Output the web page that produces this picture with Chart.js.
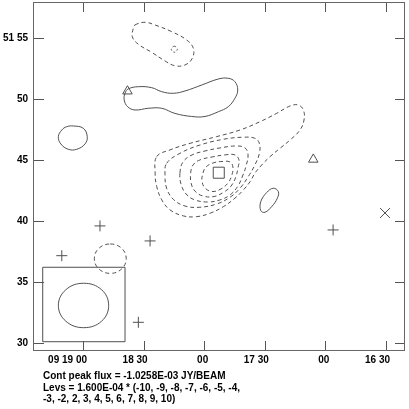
<!DOCTYPE html>
<html>
<head>
<meta charset="utf-8">
<script src="https://cdn.jsdelivr.net/npm/chart.js@4.4.1/dist/chart.umd.min.js"></script>
<style>
  html, body { margin: 0; padding: 0; background: #fff; }
  #wrap { position: relative; width: 409px; height: 409px; }
  #notes {
    position: absolute; left: 43px; top: 370px;
    font: bold 10px "Liberation Sans", Arial, sans-serif;
    line-height: 11.5px; color: #000; white-space: pre;
  }
</style>
</head>
<body>
<div id="wrap">
  <canvas id="map" width="409" height="409"></canvas>
  <div id="notes"></div>
</div>
<script>
// RA axis: seconds after 09 16 00 (decreasing to the right), Dec axis: arcsec
const raTickValues = [180, 150, 120, 90, 60, 30];
const raTickLabels = ['09 19 00', '18 30', '00', '17 30', '00', '16 30'];
const decTickValues = [30, 35, 40, 45, 50, 55];
const decTickLabels = ['30', '35', '40', '45', '50', '51 55'];

const peakFlux = '-1.0258E-03';
const levelUnit = '1.600E-04';
const levelSteps = [-10, -9, -8, -7, -6, -5, -4, -3, -2, 2, 3, 4, 5, 6, 7, 8, 9, 10];

// negative contours (dashed), [ra, dec]
const negLev2 = [[143.5,45.25],[136.9,45.80],[127.0,46.34],[113.8,46.89],[102.3,47.43],[92.4,48.11],[84.1,48.80],[77.5,49.40],[73.4,49.48],[70.9,49.07],[70.6,48.25],[72.6,47.43],[77.5,46.61],[82.5,45.93],[87.4,45.25],[91.5,44.57],[94.9,43.89],[97.3,43.20],[100.6,42.52],[104.8,41.84],[110.5,41.15],[117.1,40.61],[123.7,40.33],[130.3,40.39],[136.9,40.88],[141.0,41.70],[143.5,42.79],[144.3,43.89]];
const negLev3 = [[138.6,44.70],[132.0,45.52],[122.1,46.20],[110.5,46.67],[100.6,46.84],[94.9,46.75],[92.7,46.34],[92.7,45.52],[94.9,44.57],[98.2,43.61],[102.3,42.66],[107.2,41.92],[113.8,41.37],[122.1,41.10],[129.5,41.20],[135.3,41.75],[138.6,42.66],[139.4,43.75]];
const negLev4 = [[132.0,43.91],[130.5,44.81],[126.0,45.39],[119.6,45.71],[112.2,45.96],[104.3,46.12],[99.8,45.96],[98.3,45.39],[99.3,44.48],[100.8,43.75],[103.3,42.84],[107.2,42.11],[112.2,41.70],[118.1,41.53],[124.6,41.70],[129.0,42.19],[131.5,43.01]];
const negLev5 = [[126.7,43.91],[125.5,44.57],[122.1,44.98],[116.1,45.22],[109.7,45.39],[104.8,45.39],[102.8,44.98],[103.3,44.32],[104.3,43.61],[106.7,42.84],[110.2,42.35],[115.1,41.98],[120.6,42.02],[124.6,42.43],[126.5,43.09]];
const negLev6 = [[120.6,43.91],[119.1,44.40],[115.6,44.73],[111.2,44.85],[107.2,44.81],[105.8,44.40],[106.3,43.75],[108.2,43.09],[111.7,42.60],[116.1,42.39],[119.6,42.68],[121.1,43.25]];
const negNorth = [[154.3,56.04],[149.3,56.26],[144.4,56.04],[136.1,55.49],[128.7,54.81],[125.4,54.13],[125.9,53.31],[129.5,52.76],[134.5,52.70],[139.4,53.09],[146.0,53.80],[152.6,54.46],[155.6,55.08],[155.1,55.77]];
const negNorthSpot = [[134.8,54.30],[133.3,54.05],[134.8,53.80],[136.3,54.05]];
const negSouth = [[166.5,38.09],[160.9,37.74],[158.6,36.89],[160.9,36.04],[166.5,35.68],[172.1,36.04],[174.4,36.89],[172.1,37.74]];

// positive contours (solid)
const posNorth = [[157.6,50.80],[152.6,50.98],[146.0,50.90],[141.0,50.57],[135.3,50.44],[129.5,50.63],[121.2,51.12],[113.0,51.61],[108.1,51.67],[104.8,51.39],[103.4,50.71],[104.8,50.03],[108.1,49.34],[113.0,48.93],[119.6,48.54],[126.2,48.54],[134.5,48.79],[141.0,49.21],[147.7,49.21],[154.3,49.07],[157.9,49.34],[159.6,49.89],[159.2,50.44]];
const posWest = [[184.8,47.76],[179.85,47.57],[177.9,46.89],[179.0,46.29],[183.1,45.85],[187.3,45.85],[191.0,46.29],[192.2,46.89],[190.5,47.43],[188.1,47.70]];
const posEast = [[85.8,42.66],[83.3,42.38],[83.8,41.84],[86.6,41.15],[89.9,40.69],[92.0,40.82],[92.0,41.56],[89.1,42.30]];

// restoring beam and its box
const beamShape = [[179.65,34.87],[170.8,34.34],[167.3,33.05],[170.8,31.76],[179.65,31.23],[188.5,31.76],[192.2,33.05],[188.5,34.34]];
const beamBox = [[199.95,36.18],[159.2,36.18],[159.2,30.08],[199.95,30.08]];

// marked sources
const plusRa = [171.6, 146.8, 190.5, 152.6, 56.2];
const plusDec = [39.57, 38.34, 37.13, 31.67, 39.24];
const triRa = [158.0, 66.0];
const triDec = [50.61, 45.02];
const squareRa = [112.8];
const squareDec = [43.93];
const crossRa = [30.5];
const crossDec = [40.63];

const ink = '#505050';
const labelFont = 'bold 10px "Liberation Sans", Arial, sans-serif';

document.getElementById('notes').textContent =
    'Cont peak flux = ' + peakFlux + ' JY/BEAM\n' +
    'Levs = ' + levelUnit + ' * (' + levelSteps.slice(0, 7).join(', ') + ',\n' +
    levelSteps.slice(7).join(', ') + ')';

function toPoints(pairs) {
    return pairs.map(p => ({ x: p[0], y: p[1] }));
}

function zipPoints(ra, dec) {
    return ra.map((v, i) => ({ x: v, y: dec[i] }));
}

function contour(pairs, dashed) {
    return {
        data: toPoints(pairs),
        showLine: true,
        closed: true,
        borderColor: ink,
        borderWidth: 1,
        borderDash: dashed ? [4, 3] : [],
        tension: 0.4,
        pointRadius: 0,
        fill: false
    };
}

function marker(ra, dec, style, radius) {
    return {
        data: zipPoints(ra, dec),
        showLine: false,
        pointStyle: style,
        pointRadius: radius,
        pointBorderColor: ink,
        pointBackgroundColor: 'rgba(0,0,0,0)',
        pointBorderWidth: 1
    };
}

const boxSet = contour(beamBox, false);
boxSet.tension = 0;
const spotSet = contour(negNorthSpot, true);
spotSet.borderDash = [2, 2];

// closes each contour line back on itself (as the radar chart does)
const closeContours = {
    id: 'closeContours',
    beforeDatasetDraw(chart, args) {
        const ds = chart.data.datasets[args.index];
        if (!ds.closed) return;
        const line = args.meta.dataset;
        line._loop = true;
        line._fullLoop = true;
        line._pointsUpdated = false;
        line._path = undefined;
        line._segments = undefined;
        line.updateControlPoints(chart.chartArea, args.meta.indexAxis);
    }
};

// frame, inward tick marks on all four sides and the AIPS-style tick labels
const frameTicks = {
    id: 'frameTicks',
    afterDatasetsDraw(chart) {
        const { ctx, chartArea: a, scales: { x, y } } = chart;
        ctx.save();
        ctx.strokeStyle = '#555';
        ctx.lineWidth = 1;
        ctx.beginPath();
        x.ticks.forEach(t => {
            const px = Math.round(x.getPixelForValue(t.value)) + 0.5;
            ctx.moveTo(px, a.top); ctx.lineTo(px, a.top + 9);
            ctx.moveTo(px, a.bottom); ctx.lineTo(px, a.bottom - 9);
        });
        y.ticks.forEach(t => {
            const py = Math.round(y.getPixelForValue(t.value)) + 0.5;
            ctx.moveTo(a.left, py); ctx.lineTo(a.left + 10, py);
            ctx.moveTo(a.right, py); ctx.lineTo(a.right - 9, py);
        });
        ctx.stroke();
        ctx.strokeStyle = '#666';
        ctx.strokeRect(a.left - 0.5, a.top - 0.5, a.width + 1, a.height + 1);

        ctx.fillStyle = '#000';
        ctx.font = labelFont;
        ctx.textAlign = 'right';
        ctx.textBaseline = 'middle';
        decTickValues.forEach((v, i) => {
            ctx.fillText(decTickLabels[i], a.left - 6, y.getPixelForValue(v) + 0.5);
        });
        ctx.textBaseline = 'alphabetic';
        raTickValues.forEach((v, i) => {
            ctx.fillText(raTickLabels[i], x.getPixelForValue(v) + 4, a.bottom + 13);
        });
        ctx.restore();
    }
};

new Chart(document.getElementById('map'), {
    type: 'scatter',
    data: {
        datasets: [
            marker(plusRa, plusDec, 'cross', 5.5),
            marker(triRa, triDec, 'triangle', 5.5),
            marker(squareRa, squareDec, 'rect', 7.8),
            marker(crossRa, crossDec, 'crossRot', 7),
            contour(negLev2, true),
            contour(negLev3, true),
            contour(negLev4, true),
            contour(negLev5, true),
            contour(negLev6, true),
            contour(negNorth, true),
            spotSet,
            contour(negSouth, true),
            contour(posNorth, false),
            contour(posWest, false),
            contour(posEast, false),
            contour(beamShape, false),
            boxSet
        ]
    },
    options: {
        responsive: false,
        animation: false,
        devicePixelRatio: 1,
        events: [],
        layout: { autoPadding: false, padding: { top: 3, right: 5, bottom: 39, left: 0 } },
        plugins: { legend: { display: false }, tooltip: { enabled: false } },
        scales: {
            x: {
                type: 'linear',
                reverse: true,
                min: 21.1,
                max: 204.26,
                grid: { display: false, drawTicks: false },
                border: { display: false },
                afterFit(scale) { scale.height = 20; },
                afterBuildTicks(scale) { scale.ticks = raTickValues.map(v => ({ value: v })); },
                ticks: { display: false }
            },
            y: {
                type: 'linear',
                min: 29.4,
                max: 57.84,
                grid: { display: false, drawTicks: false },
                border: { display: false },
                afterFit(scale) { scale.width = 34; },
                afterBuildTicks(scale) { scale.ticks = decTickValues.map(v => ({ value: v })); },
                ticks: { display: false }
            }
        }
    },
    plugins: [closeContours, frameTicks]
});
</script>
</body>
</html>
